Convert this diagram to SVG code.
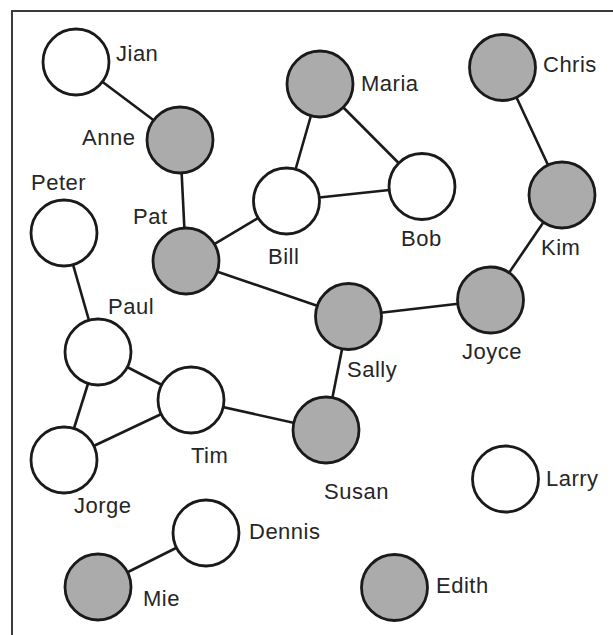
<svg xmlns="http://www.w3.org/2000/svg" width="613" height="635" viewBox="0 0 613 635">
<style>
.frame{stroke:#3a3a3a;stroke-width:2;fill:none}
.edge{stroke:#1a1a1a;stroke-width:2.6;fill:none}
.w{fill:#ffffff;stroke:#1a1a1a;stroke-width:2.8}
.g{fill:#ababab;stroke:#1a1a1a;stroke-width:2.8}
text{font-family:"Liberation Sans",Arial,sans-serif;font-size:22px;letter-spacing:0.5px;fill:#262626}
</style>
<rect width="613" height="635" fill="#ffffff"/>
<path class="frame" d="M12,635 V11 H613"/>
<g id="connectors">
<line class="edge" x1="76" y1="62" x2="180" y2="140"/>
<line class="edge" x1="180" y1="140" x2="186" y2="261"/>
<line class="edge" x1="186" y1="261" x2="286.5" y2="201"/>
<line class="edge" x1="186" y1="261" x2="348.5" y2="316.5"/>
<line class="edge" x1="286.5" y1="201" x2="320" y2="84"/>
<line class="edge" x1="286.5" y1="201" x2="422" y2="186.5"/>
<line class="edge" x1="320" y1="84" x2="422" y2="186.5"/>
<line class="edge" x1="502.5" y1="67.5" x2="562" y2="195"/>
<line class="edge" x1="562" y1="195" x2="490.5" y2="300"/>
<line class="edge" x1="490.5" y1="300" x2="348.5" y2="316.5"/>
<line class="edge" x1="348.5" y1="316.5" x2="326" y2="430"/>
<line class="edge" x1="326" y1="430" x2="191" y2="400"/>
<line class="edge" x1="191" y1="400" x2="98" y2="352"/>
<line class="edge" x1="191" y1="400" x2="64" y2="460"/>
<line class="edge" x1="98" y1="352" x2="64" y2="460"/>
<line class="edge" x1="98" y1="352" x2="64" y2="233"/>
<line class="edge" x1="206" y1="533" x2="98" y2="587"/>
</g>
<g id="jian"><circle class="w" cx="76" cy="62" r="33"/><text x="116" y="61">Jian</text></g>
<g id="anne"><circle class="g" cx="180" cy="140" r="33"/><text x="82" y="145">Anne</text></g>
<g id="peter"><circle class="w" cx="64" cy="233" r="33"/><text x="31" y="190">Peter</text></g>
<g id="pat"><circle class="g" cx="186" cy="261" r="33"/><text x="133" y="224">Pat</text></g>
<g id="bill"><circle class="w" cx="286.5" cy="201" r="33"/><text x="268" y="264">Bill</text></g>
<g id="maria"><circle class="g" cx="320" cy="84" r="33"/><text x="361" y="91">Maria</text></g>
<g id="bob"><circle class="w" cx="422" cy="186.5" r="33"/><text x="401" y="246">Bob</text></g>
<g id="chris"><circle class="g" cx="502.5" cy="67.5" r="33"/><text x="543" y="72">Chris</text></g>
<g id="kim"><circle class="g" cx="562" cy="195" r="33"/><text x="541" y="255">Kim</text></g>
<g id="joyce"><circle class="g" cx="490.5" cy="300" r="33"/><text x="462" y="359">Joyce</text></g>
<g id="sally"><circle class="g" cx="348.5" cy="316.5" r="33"/><text x="347" y="377">Sally</text></g>
<g id="paul"><circle class="w" cx="98" cy="352" r="33"/><text x="108" y="314">Paul</text></g>
<g id="tim"><circle class="w" cx="191" cy="400" r="33"/><text x="191" y="463">Tim</text></g>
<g id="jorge"><circle class="w" cx="64" cy="460" r="33"/><text x="74" y="513">Jorge</text></g>
<g id="susan"><circle class="g" cx="326" cy="430" r="33"/><text x="324" y="499">Susan</text></g>
<g id="larry"><circle class="w" cx="505.5" cy="479" r="33"/><text x="546" y="486">Larry</text></g>
<g id="dennis"><circle class="w" cx="206" cy="533" r="33"/><text x="249" y="539">Dennis</text></g>
<g id="mie"><circle class="g" cx="98" cy="587" r="33"/><text x="143" y="606">Mie</text></g>
<g id="edith"><circle class="g" cx="394.5" cy="587.5" r="33"/><text x="436" y="593">Edith</text></g>
</svg>
